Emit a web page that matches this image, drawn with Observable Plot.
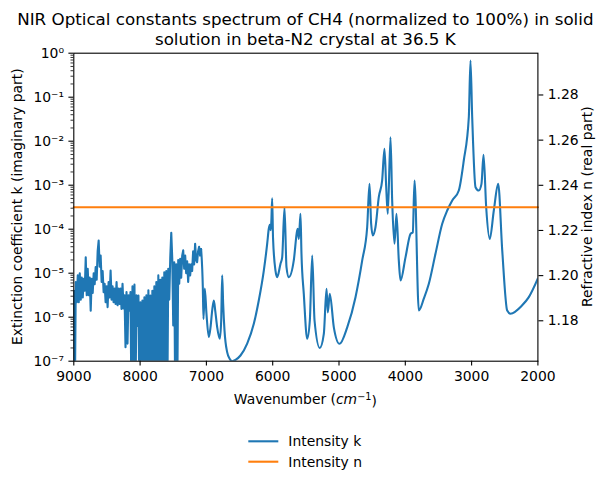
<!DOCTYPE html>
<html><head><meta charset="utf-8">
<script src="https://cdn.jsdelivr.net/npm/d3@7"></script>
<script src="https://cdn.jsdelivr.net/npm/@observablehq/plot@0.6"></script>
<style>body{margin:0;background:#fff} svg{display:block}</style>
</head><body><div id="chart"></div>
<script>
// ---- data ----
const titleLines = ["NIR Optical constants spectrum of CH4 (normalized to 100%) in solid", "solution in beta-N2 crystal at 36.5 K"];
const seriesNames = ["Intensity k", "Intensity n"];
const seriesColors = ["#1f77b4", "#ff7f0e"];
const xTicks = [9000, 8000, 7000, 6000, 5000, 4000, 3000, 2000];
const yTickExponents = [-7, -6, -5, -4, -3, -2, -1, 0];
const nTicks = [1.18, 1.20, 1.22, 1.24, 1.26, 1.28];
const nDomain = [1.1621, 1.2985];
const noisyLimit = 7080; // wavenumbers above this are the noisy part of the spectrum

// wavenumber (cm^-1) and log10 of extinction coefficient k
const wavenumber = [
9000,8985,8970,8955,8940,8925,8910,8895,8880,8865,8850,8835,8820,8805,8790,8775,8760,8745,8730,8715,
8700,8685,8670,8655,8640,8625,8610,8595,8580,8565,8550,8535,8520,8505,8490,8475,8460,8445,8430,8415,
8400,8385,8370,8355,8340,8325,8310,8295,8280,8265,8250,8235,8220,8205,8190,8175,8160,8145,8130,8115,
8100,8085,8070,8055,8040,8025,8010,7995,7980,7965,7950,7935,7920,7905,7890,7875,7860,7845,7830,7815,
7800,7785,7770,7755,7740,7725,7710,7695,7680,7665,7650,7635,7620,7605,7590,7575,7560,7545,7530,7515,
7500,7485,7470,7455,7440,7425,7410,7395,7380,7365,7350,7335,7320,7305,7290,7275,7260,7245,7230,7215,
7200,7185,7170,7155,7140,7125,7110,7095,7080,
7054,7044,7024,6999,6964,6938,6913,6888,6867,6837,6798,6777,6762,6747,6727,6686,6647,6611,6561,6486,
6385,6285,6210,6134,6083,6059,6044,6030,6020,6008,5995,5958,5933,5883,5857,5822,5792,5757,5682,5631,
5621,5606,5581,5566,5531,5480,5440,5404,5369,5290,5229,5188,5169,5139,5078,4992,4876,4751,4650,4575,
4540,4515,4490,4450,4400,4349,4314,4288,4264,4223,4198,4163,4133,4098,4072,3997,3921,3887,3861,3796,
3721,3645,3545,3443,3368,3292,3193,3118,3042,3017,2991,2941,2891,2851,2820,2780,2726,2665,2599,2538,
2463,2413,2237,2137,2000
];
const kLog10 = [
-5.4,-8,-5.2,-5.66,-5.05,-5.66,-5.0,-5.6,-5.1,-5.55,-5.13,-5.4,-4.64,-5.5,-4.9,-5.5,-5.1,-5.85,-5.13,-5.45,
-5.0,-5.25,-4.86,-5.15,-4.5,-4.26,-4.85,-4.6,-5.2,-4.95,-5.43,-5.24,-5.66,-5.3,-5.77,-5.2,-5.55,-4.94,-5.6,-5.3,
-5.66,-5.35,-5.7,-5.2,-5.73,-5.35,-5.7,-5.35,-5.81,-5.24,-5.8,-5.5,-6.68,-5.43,-6.6,-5.5,-5.85,-5.43,-8,-5.3,
-8,-5.26,-8,-5.5,-6.2,-5.51,-8,-5.66,-8,-5.62,-8,-5.55,-8,-5.5,-8,-5.39,-8,-5.51,-8,-5.4,
-8,-5.3,-8,-5.2,-8,-5.05,-8,-5.15,-8,-5.1,-8,-4.98,-8,-4.95,-8,-4.9,-5.6,-4.64,-4.08,-4.67,
-6.19,-4.75,-8,-4.8,-8,-4.7,-5.24,-4.67,-5.1,-4.6,-4.48,-4.9,-4.6,-5.0,-4.73,-5.2,-4.8,-5.05,-4.8,-4.95,
-4.5,-4.8,-4.33,-4.7,-4.75,-4.5,-4.4,-4.6,-4.45,
-5.32,-6.04,-5.35,-5.92,-6.45,-6.23,-5.85,-5.62,-5.85,-6.23,-6.49,-6.08,-5.05,-5.7,-6.3,-6.8,-6.95,-7.0,-6.97,-6.87,
-6.6,-6.15,-5.62,-4.94,-4.33,-3.99,-3.9,-4.02,-3.8,-3.3,-4.2,-4.94,-5.09,-4.79,-4.64,-3.51,-4.86,-5.09,-4.71,-4.03,
-3.99,-4.22,-3.65,-4.56,-5.47,-6.49,-6.075,-4.6,-6.075,-6.7,-6.38,-5.355,-5.89,-5.47,-6.23,-6.605,-6.23,-5.545,-4.71,-3.955,
-2.97,-3.88,-4.14,-3.955,-3.27,-2.89,-2.17,-3.045,-3.65,-1.91,-3.35,-4.33,-3.65,-4.71,-5.166,-4.64,-4.105,-4.07,-2.893,-5.848,
-5.58,-5.24,-4.56,-3.877,-3.575,-3.348,-3.12,-2.439,-1.455,-0.166,-1.455,-3.045,-3.12,-2.97,-2.31,-3.5,-4.22,-3.575,-2.97,-4.48,
-5.85,-5.92,-5.73,-5.545,-5.12
];
// refractive index n (flat line)
const nWavenumber = [9000, 2000];
const nValues = [1.2303, 1.2303];

// ---- build tables ----
const kData = wavenumber.map((w, i) => ({wn: w, k: Math.pow(10, kLog10[i])}));
const kNoisy = kData.filter(d => d.wn >= noisyLimit);
const kSmooth = kData.filter(d => d.wn <= noisyLimit);
const nData = nWavenumber.map((w, i) => ({wn: w, n: nValues[i]}));

// map the n axis onto the shared (log) vertical range
const nToK = n => Math.pow(10, -7 + 7 * (n - nDomain[0]) / (nDomain[1] - nDomain[0]));

const supMap = {"-": "\u207B", "0": "\u2070", "1": "\u00B9", "2": "\u00B2", "3": "\u00B3", "4": "\u2074", "5": "\u2075", "6": "\u2076", "7": "\u2077", "8": "\u2078", "9": "\u2079"};
const supFmt = v => "10" + String(Math.round(Math.log10(v))).split("").map(c => supMap[c]).join("");

const yMajor = yTickExponents.map(e => Math.pow(10, e));
const yMinor = [];
for (let e = -7; e < 0; e++) for (let m = 2; m <= 9; m++) yMinor.push(m * Math.pow(10, e));

const W = 608, H = 485, mL = 73.3, mR = 70.6, mT = 52.7, mB = 124.3;
const chart = Plot.plot({
  width: W, height: H,
  marginLeft: mL, marginRight: mR, marginTop: mT, marginBottom: mB,
  style: {fontFamily: "DejaVu Sans, sans-serif", fontSize: "13.9px", color: "#000", background: "#fff", overflow: "visible"},
  x: {domain: [9000, 2000]},
  y: {type: "log", domain: [1e-7, 1]},
  marks: [
    Plot.line(kNoisy, {x: "wn", y: "k", stroke: seriesColors[0], strokeWidth: 2.1, curve: "linear", clip: true}),
    Plot.line(kSmooth, {x: "wn", y: "k", stroke: seriesColors[0], strokeWidth: 2.1, curve: "monotone-x", clip: true}),
    Plot.line(nData, {x: "wn", y: d => nToK(d.n), stroke: seriesColors[1], strokeWidth: 2.1}),
    Plot.frame({stroke: "#000", strokeWidth: 1.1}),
    Plot.axisX({ticks: xTicks, tickSize: 4.9, tickPadding: 4.9, tickFormat: d => String(d), label: null, strokeWidth: 1.1}),
    Plot.axisY({ticks: yMajor, tickSize: 4.9, tickPadding: 4.9, tickFormat: supFmt, label: null, strokeWidth: 1.1}),
    Plot.axisY({ticks: yMinor, tickSize: 2.8, fill: "none", label: null, strokeWidth: 0.8}),
    Plot.axisY({anchor: "right", ticks: nTicks.map(nToK), tickSize: 4.9, fill: "none", label: null, strokeWidth: 1.1}),
    Plot.text(nTicks, {y: d => nToK(d), text: d => d.toFixed(2), frameAnchor: "right", dx: 9.8, textAnchor: "start", fill: "#000"})
  ]
});
document.getElementById("chart").appendChild(chart);

const svg = d3.select(chart);
const cx = mL + (W - mL - mR) / 2;
const cy = mT + (H - mT - mB) / 2;
const font = "DejaVu Sans, sans-serif";

// title
titleLines.forEach((t, i) => {
  svg.append("text").attr("x", cx).attr("y", 25 + i * 20).attr("text-anchor", "middle")
    .attr("font-family", font).attr("font-size", "16.7px").attr("fill", "#000").text(t);
});

// x label
const xl = svg.append("text").attr("x", cx).attr("y", 404).attr("text-anchor", "middle")
  .attr("font-family", font).attr("font-size", "13.9px").attr("fill", "#000");
xl.append("tspan").text("Wavenumber (");
xl.append("tspan").attr("font-style", "italic").text("cm");
xl.append("tspan").attr("dy", "-0.45em").attr("font-size", "9.7px").text("\u22121");
xl.append("tspan").attr("dy", "0.45em").text(")");

// y labels
svg.append("text").attr("transform", `translate(21.7,${cy}) rotate(-90)`).attr("text-anchor", "middle")
  .attr("font-family", font).attr("font-size", "13.9px").attr("fill", "#000")
  .text("Extinction coefficient k (imaginary part)");
svg.append("text").attr("transform", `translate(591.5,${cy}) rotate(-90)`).attr("text-anchor", "middle")
  .attr("font-family", font).attr("font-size", "13.9px").attr("fill", "#000")
  .text("Refractive index n (real part)");

// legend
seriesNames.forEach((name, i) => {
  const y = 441.3 + i * 20.4;
  svg.append("line").attr("x1", 248.3).attr("x2", 278.3).attr("y1", y).attr("y2", y)
    .attr("stroke", seriesColors[i]).attr("stroke-width", 2.1);
  svg.append("text").attr("x", 288.3).attr("y", y).attr("dy", "0.35em").attr("text-anchor", "start")
    .attr("font-family", font).attr("font-size", "13.9px").attr("fill", "#000").text(name);
});
</script>
</body></html>
